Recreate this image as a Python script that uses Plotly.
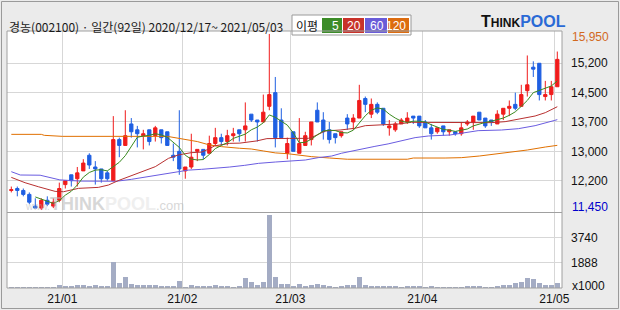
import plotly.graph_objects as go
import pandas as pd

# ---------------- data ----------------
holidays = ['2020-12-25', '2020-12-31', '2021-01-01', '2021-02-11', '2021-02-12', '2021-03-01']
dates = [d for d in pd.bdate_range('2020-12-17', '2021-05-03') if d.strftime('%Y-%m-%d') not in holidays]

opens = [11950, 12000, 11950, 11850, 11550, 11500, 11700, 11550, 11700, 12100,
         12350, 12250, 12450, 12850, 12550, 12500, 12400, 12200, 13250, 13100,
         13650, 13500, 13350, 13500, 13350, 13500, 13450, 12850, 12950, 12450,
         12550, 12950, 13000, 12900, 13150, 13300, 13200, 13350, 13500, 13500,
         13900, 13750, 13700, 14100, 14450, 13750, 12900, 13450, 12900, 13100,
         13250, 14000, 13750, 13500, 13400, 13350, 13800, 13700, 13800, 14300,
         13900, 14150, 14050, 13550, 13500, 13650, 13700, 13850, 13850, 13700,
         13550, 13450, 13600, 13450, 13450, 13400, 13650, 13700, 13950, 13800,
         13750, 13650, 13900, 14050, 14150, 14100, 14500, 15100, 15200, 14350,
         14400, 14600]
highs = [12050, 12050, 12000, 11900, 11750, 11750, 11800, 11750, 12150, 12200,
         12350, 12550, 12750, 12900, 12700, 12500, 12450, 13850, 13300, 14000,
         13800, 13600, 13500, 13500, 13600, 13500, 13450, 13150, 14000, 12550,
         13400, 13000, 13000, 13350, 13550, 13400, 13500, 13550, 13500, 14200,
         13900, 13750, 14400, 15950, 14850, 14050, 13300, 13450, 13800, 13450,
         13700, 14200, 13950, 13700, 13400, 13450, 13900, 13900, 14650, 14350,
         14300, 14200, 14050, 13750, 13700, 13800, 13950, 13850, 13850, 13750,
         13650, 13550, 13600, 13500, 13450, 13700, 13750, 13850, 13950, 13800,
         13750, 14000, 14050, 14250, 14450, 14650, 15400, 15250, 15200, 14750,
         14750, 15500]
lows = [11900, 11800, 11800, 11600, 11500, 11450, 11550, 11500, 11650, 12000,
        12050, 12050, 12450, 12500, 12100, 12150, 12200, 12200, 12800, 13100,
        13300, 13050, 13000, 13100, 13200, 13150, 13100, 12700, 12350, 12250,
        12500, 12700, 12750, 12900, 13100, 13100, 13100, 13200, 13200, 13200,
        13700, 13200, 13700, 14000, 13050, 13300, 12750, 12950, 12900, 13100,
        13100, 13700, 13250, 13150, 13150, 13300, 13500, 13500, 13800, 13950,
        13800, 13900, 13600, 13350, 13450, 13650, 13650, 13650, 13550, 13550,
        13250, 13400, 13350, 13350, 13350, 13350, 13600, 13500, 13750, 13550,
        13600, 13650, 13750, 13850, 14000, 14100, 14350, 14850, 14250, 14250,
        14250, 14600]
closes = [11970, 11950, 11850, 11650, 11500, 11700, 11600, 11650, 12000, 12200,
          12200, 12400, 12650, 12600, 12500, 12250, 12250, 13250, 13100, 13350,
          13450, 13400, 13400, 13200, 13550, 13300, 13100, 12800, 12500, 12550,
          12800, 13000, 12850, 13150, 13300, 13200, 13350, 13400, 13400, 13600,
          13750, 13700, 13950, 14400, 13300, 13300, 13150, 12950, 13150, 13350,
          13700, 13700, 13450, 13250, 13300, 13450, 13650, 13800, 14250, 14150,
          14150, 13950, 13650, 13600, 13650, 13750, 13800, 13800, 13600, 13550,
          13400, 13550, 13450, 13500, 13400, 13550, 13700, 13850, 13750, 13600,
          13700, 13900, 14050, 14100, 14050, 14400, 14650, 15050, 14400, 14400,
          14600, 15300]
volumes = [120, 110, 120, 130, 120, 130, 120, 120, 270, 200,
           200, 270, 270, 200, 270, 200, 200, 1980, 420, 860,
           350, 270, 270, 270, 270, 200, 200, 200, 570, 120,
           270, 200, 200, 200, 270, 200, 200, 120, 200, 790,
           490, 270, 490, 5460, 860, 350, 350, 200, 350, 200,
           270, 350, 270, 200, 120, 200, 270, 270, 860, 270,
           200, 200, 200, 200, 200, 120, 200, 200, 200, 120,
           200, 120, 120, 120, 120, 120, 200, 200, 200, 120,
           120, 200, 270, 270, 420, 490, 790, 720, 420, 270,
           270, 420]  # x1000

# moving averages (index, price)
ma20_x = [0, 2.3, 4.5, 7.3, 8.7, 11.2, 14.5, 16.2, 17.8, 19.5, 21.7, 24, 26.2, 27.8, 30, 31.7,
          32.8, 33.9, 36.4, 38.1, 40.9, 42.6, 46.4, 49.5, 50.6, 52.3, 54.8, 57.3, 59, 62, 64.5,
          66.7, 73.1, 80, 82.3, 83.9, 85.6, 87.3, 89, 90.6, 91]
ma20_y = [12285, 12148, 12046, 11927, 11918, 12004, 12029, 12089, 12200, 12302, 12430, 12558,
          12771, 12856, 12916, 12930, 13001, 13090, 13154, 13160, 13216, 13275, 13280, 13282,
          13342, 13470, 13495, 13540, 13606, 13623, 13649, 13691, 13691, 13683, 13708, 13751,
          13793, 13853, 13938, 14070, 14090]
ma60_x = [0, 1.5, 4.8, 6.5, 8.1, 11.5, 17.5, 20, 22.8, 24.5, 27.3, 29.5, 31.7, 34, 36.4, 38.9,
          41.2, 44, 46.7, 49, 51.2, 53.4, 55, 56.2, 58.4, 60.6, 62.8, 65.1, 67.3, 69.5, 73.1,
          77.8, 81.7, 84.5, 87.3, 90.6, 91]
ma60_y = [12430, 12345, 12340, 12276, 12220, 12190, 12185, 12234, 12302, 12362, 12430, 12470,
          12490, 12515, 12549, 12592, 12643, 12677, 12702, 12728, 12790, 12830, 12900, 12941,
          13009, 13077, 13140, 13214, 13300, 13342, 13367, 13478, 13495, 13529, 13606, 13742,
          13760]
ma120_x = [0, 5, 5.5, 8.5, 26, 27.5, 29.5, 31, 33, 35, 38, 40, 42, 44, 46, 47.5, 50, 53, 55,
           56, 66, 67, 72.3, 75, 78, 80.6, 83.4, 86, 89, 91]
ma120_y = [13384, 13384, 13359, 13333, 13333, 13295, 13230, 13200, 13114, 13070, 13029, 13010,
           12960, 12910, 12890, 12858, 12815, 12780, 12770, 12748, 12748, 12779, 12779, 12788,
           12830, 12881, 12924, 12984, 13060, 13103]

price_grid = [15200, 14450, 13700, 12950, 12200]
price_max, price_min = 15950, 11450
vol_ticks = [1888, 3740]

title_text = '경농(002100) · 일간(92일) 2020/12/17~ 2021/05/03'

# ---------------- derived ----------------
xi = list(range(len(closes)))
ma5 = pd.Series(closes).rolling(5).mean()
ma5_x = [i for i in xi if i >= 4]
ma5_y = [ma5[i] for i in ma5_x]

bounds, blabels = [], []
for i in range(1, len(dates)):
    if dates[i].month != dates[i - 1].month:
        bounds.append(i - 0.5)
        blabels.append(dates[i].strftime('%y/%m'))

RED = '#f01c1c'
BLUE = '#1f5fe2'
NUMFONT = 'Liberation Sans, Arial, sans-serif'
KFONT = 'Noto Sans CJK KR, sans-serif'
GRID = '#d7d7d7'
FRAME = '#a0a0a0'

W, H = 620, 310
L, R, T, B = 7, 58, 31, 22
PW, PH = W - L - R, H - T - B


def px(x):
    return (x - L) / PW


def py(y):
    return (H - B - y) / PH


split = py(212.5)

fig = go.Figure()

# watermark
fig.add_annotation(x=px(23), y=py(204), xref='paper', yref='paper', xanchor='left', yanchor='middle',
                   showarrow=False, opacity=0.55,
                   text="<span style='font-size:10px'>www.</span><b>THINK</b>"
                        "<span style='color:#e2e2e2'><b>POOL</b></span>"
                        "<span style='font-size:13px'>.com</span>",
                   font=dict(family=NUMFONT, size=18, color='#b8b8b8'))

fig.add_trace(go.Candlestick(
    x=xi, open=opens, high=highs, low=lows, close=closes,
    increasing=dict(line=dict(color=RED, width=1), fillcolor=RED),
    decreasing=dict(line=dict(color=BLUE, width=1), fillcolor=BLUE),
    whiskerwidth=0, xaxis='x', yaxis='y', hoverinfo='skip'))

for mx, my, col in [(ma120_x, ma120_y, '#e07000'), (ma60_x, ma60_y, '#6a5ce0'),
                    (ma20_x, ma20_y, '#b83030'), (ma5_x, ma5_y, '#3a8a20')]:
    fig.add_trace(go.Scatter(x=mx, y=my, mode='lines', line=dict(color=col, width=1),
                             xaxis='x', yaxis='y', hoverinfo='skip'))

fig.add_trace(go.Bar(x=xi, y=volumes, width=0.78, marker=dict(color='#a4acc4', line=dict(width=0)),
                     xaxis='x2', yaxis='y2', hoverinfo='skip'))

xr = [(L - 11.3) / 6.0, (W - R - 11.3) / 6.0]
fig.update_layout(
    width=W, height=H, margin=dict(l=L, r=R, t=T, b=B, autoexpand=False),
    paper_bgcolor='#ebebeb', plot_bgcolor='white', showlegend=False, boxgap=0.22, bargap=0,
    xaxis=dict(domain=[0, 1], range=xr, anchor='y', tickvals=bounds, showticklabels=False,
               showgrid=True, gridcolor=GRID, gridwidth=1, zeroline=False, automargin=False,
               rangeslider=dict(visible=False), fixedrange=True),
    xaxis2=dict(domain=[0, 1], range=xr, anchor='y2', matches='x', tickvals=bounds, ticktext=blabels,
                showgrid=True, gridcolor=GRID, gridwidth=1, zeroline=False, ticks='', automargin=False,
                ticklabelstandoff=2, tickfont=dict(family=NUMFONT, size=12, color='#111')),
    yaxis=dict(domain=[split, 1], range=[11387, 16025], side='right', tickvals=price_grid,
               ticktext=[f"{int(v / 100 + 0.5) * 100:,}" for v in price_grid], automargin=False,
               showgrid=True, gridcolor=GRID, gridwidth=1, zeroline=False, ticks='',
               ticklabelstandoff=8, tickfont=dict(family=NUMFONT, size=12, color='#111')),
    yaxis2=dict(domain=[0, split], range=[-16, 5577], side='right', tickvals=vol_ticks,
                ticktext=[str(v) for v in vol_ticks], showgrid=True, gridcolor=GRID, gridwidth=1,
                zeroline=False, ticks='', ticklabelstandoff=8, automargin=False,
                tickfont=dict(family=NUMFONT, size=12, color='#111')),
)

# right-axis extra labels
fig.add_annotation(x=1, xref='paper', y=price_max, yref='y', xanchor='left', xshift=8, yshift=-3,
                   text=f"{price_max:,}", showarrow=False, font=dict(family=NUMFONT, size=12, color='#d2691e'))
fig.add_annotation(x=1, xref='paper', y=price_min, yref='y', xanchor='left', xshift=8, yshift=3,
                   text=f"{price_min:,}", showarrow=False, font=dict(family=NUMFONT, size=12, color='#0000cc'))
fig.add_annotation(x=1, xref='paper', y=0, yref='y2', xanchor='left', xshift=8, yshift=2,
                   text='x1000', showarrow=False, font=dict(family=NUMFONT, size=12, color='#111'))

# title
fig.add_annotation(x=px(7), y=py(26), xref='paper', yref='paper', xanchor='left', yanchor='middle',
                   text=title_text, showarrow=False, font=dict(family=KFONT, size=12, color='#1a1a1a'))

# MA legend box
shapes = [
    dict(type='rect', xref='paper', yref='paper', x0=px(292), x1=px(411), y0=py(35), y1=py(15),
         fillcolor='white', line=dict(color='#9a9a9a', width=1)),
]
leg = [('5', '#3c8c28', 322, 342), ('20', '#c8322a', 343, 364),
       ('60', '#6a5cd8', 365, 387), ('120', '#dc6c10', 388, 409)]
for lab, col, a, b in leg:
    shapes.append(dict(type='rect', xref='paper', yref='paper', x0=px(a), x1=px(b), y0=py(33), y1=py(18),
                       fillcolor=col, line=dict(width=0)))
    fig.add_annotation(x=px(b - 1), y=py(25.5), xref='paper', yref='paper', xanchor='right', yanchor='middle',
                       text=lab, showarrow=False, font=dict(family=NUMFONT, size=12, color='white'))
fig.add_annotation(x=px(307), y=py(25), xref='paper', yref='paper', xanchor='center', yanchor='middle',
                   text='이평', showarrow=False, font=dict(family=KFONT, size=12, color='#111'))

# THINKPOOL logo
fig.add_annotation(x=px(523), y=py(22), xref='paper', yref='paper', xanchor='center', yanchor='middle',
                   text="<b>T<span style='font-size:12px'>HINK</span></b>"
                        "<span style='color:#2a6ad6'><b>POOL</b></span>",
                   showarrow=False, font=dict(family=NUMFONT, size=16, color='#111'))

# frames
shapes += [
    dict(type='rect', xref='paper', yref='paper', x0=0, x1=1, y0=0, y1=1, line=dict(color=FRAME, width=1)),
    dict(type='line', xref='paper', yref='paper', x0=0, x1=1, y0=split, y1=split, line=dict(color=FRAME, width=1)),
    dict(type='rect', xref='paper', yref='paper', x0=px(1.5), x1=px(618.5), y0=py(308.5), y1=py(1.5),
         line=dict(color='#9a9a9a', width=1)),
]
fig.update_layout(shapes=shapes)

fig.write_html('out.html')
